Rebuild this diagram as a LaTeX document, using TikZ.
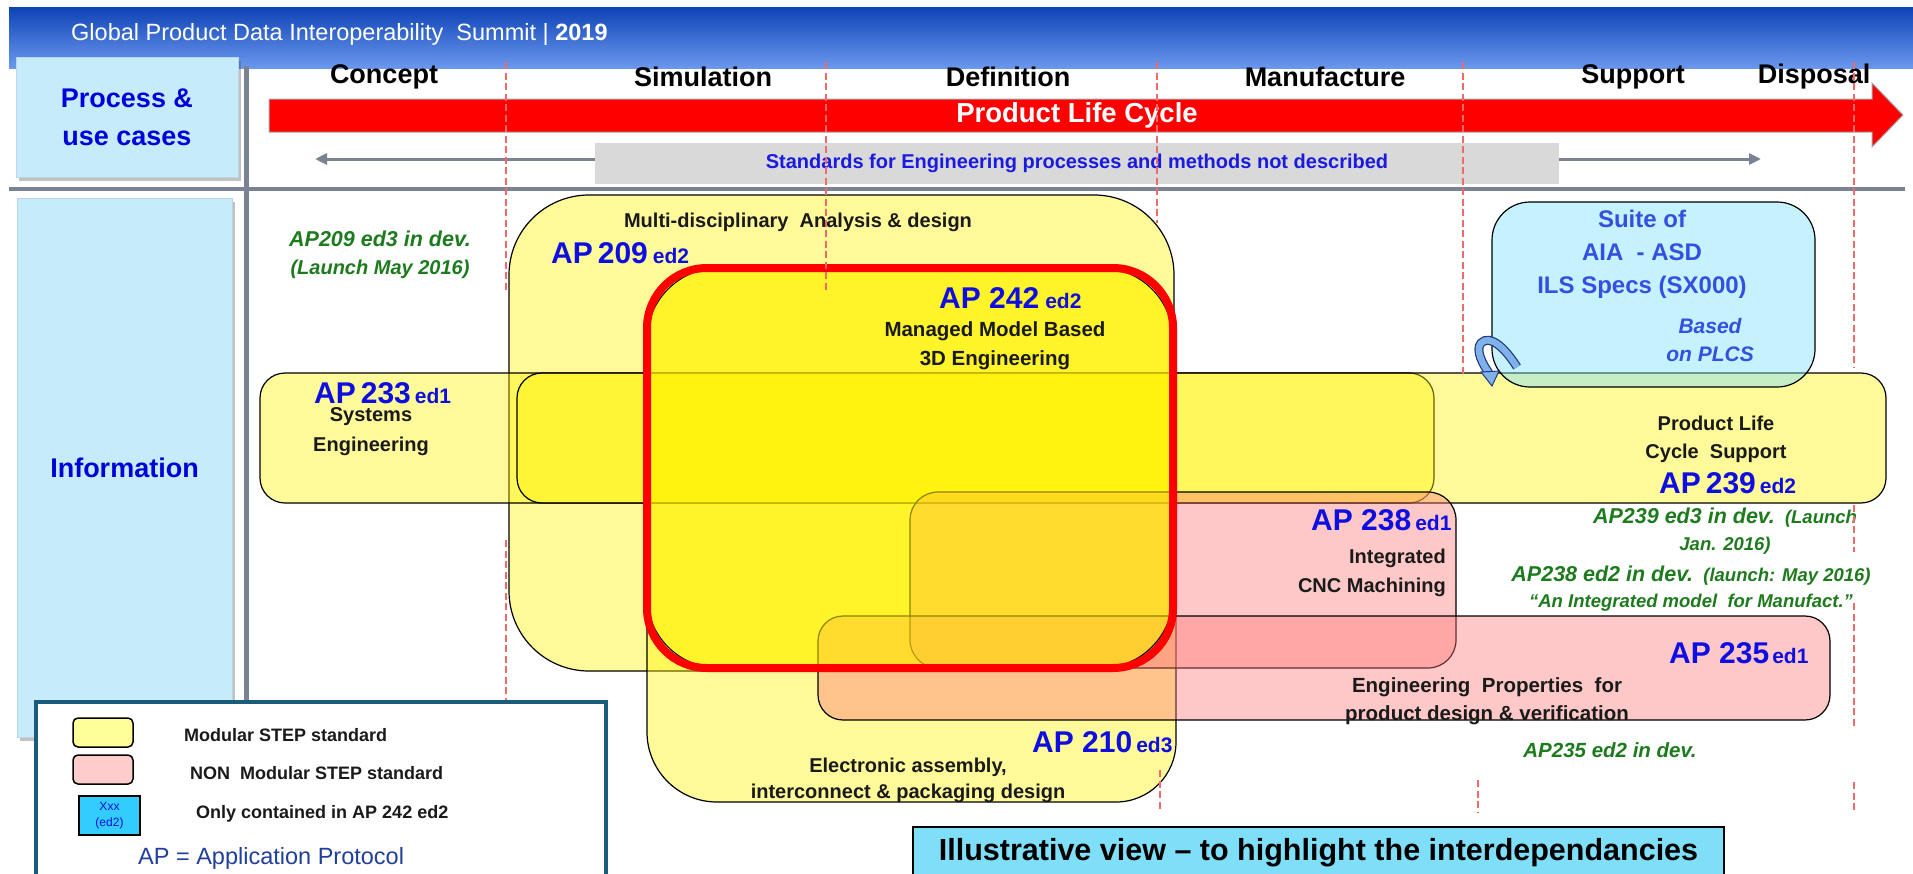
\documentclass[tikz,border=0pt]{standalone}
\usepackage{fontspec}
\setmainfont{Liberation Sans}
\usetikzlibrary{shadows,arrows.meta}

\definecolor{hdtop}{HTML}{0F43B5}
\definecolor{hdbot}{HTML}{6A98EE}
\definecolor{infofill}{HTML}{C6ECFC}
\definecolor{procblue}{HTML}{0000D8}
\definecolor{sepgray}{HTML}{7B8393}
\definecolor{stdgray}{HTML}{D9D9D9}
\definecolor{stdblue}{HTML}{1A1AE0}
\definecolor{dashred}{HTML}{F06A6A}
\definecolor{apblue}{HTML}{0E0EE0}
\definecolor{devgreen}{HTML}{1D7A1D}
\definecolor{aiablue}{HTML}{3350E0}
\definecolor{legframe}{HTML}{1A5C7C}
\definecolor{illfill}{HTML}{7FDFF8}
\definecolor{pinkbase}{HTML}{FF7575}
\definecolor{aiafill}{HTML}{80E0FF}
\definecolor{labblack}{HTML}{1A1A1A}
\definecolor{legyellow}{HTML}{FFFF99}
\definecolor{legpink}{HTML}{FFCCCC}
\definecolor{legcyan}{HTML}{33CCFF}
\definecolor{apdef}{HTML}{21409A}
\definecolor{arrdark}{HTML}{1F3B7A}
\definecolor{arrlight}{HTML}{7FB2EA}

\newcommand{\fsz}[2]{\fontsize{#1}{#2}\selectfont}

\begin{document}
\begin{tikzpicture}[x=1pt,y=-1pt,
  yel/.style={fill=yellow, fill opacity=0.4, draw=black, line width=1.2pt},
  pnk/.style={fill=pinkbase, fill opacity=0.4, draw=black, line width=1.2pt},
  infobox/.style={fill=infofill, draw=infofill!80!gray, line width=0.6pt,
    drop shadow={shadow xshift=3pt, shadow yshift=-4pt, opacity=0.35, fill=black!70},
    text=procblue, font=\fsz{27}{38}\bfseries, align=center, inner sep=0},
  phase/.style={font=\fsz{27}{30}\bfseries, inner sep=0},
  sep/.style={draw=sepgray, line width=4.5pt},
  dashline/.style={draw=dashred, line width=1.6pt, dash pattern=on 7pt off 3.5pt},
  aplab/.style={anchor=base west, text=apblue, font=\bfseries, inner sep=0},
  lab/.style={text=labblack, font=\bfseries, inner sep=0, align=center},
  dev/.style={text=devgreen, font=\bfseries\itshape, inner sep=0, align=center},
  legtext/.style={anchor=west, text=labblack, font=\fsz{18}{20}\bfseries, inner sep=0},
  swatch/.style={draw=black, line width=1.5pt, minimum width=60pt, minimum height=29pt, inner sep=0}
]
\useasboundingbox (0,0) rectangle (1913,873);

% header band
\shade[top color=hdtop, bottom color=hdbot] (9,7) rectangle (1913,68);
\node[anchor=west, text=white, font=\fsz{23.5}{28}, inner sep=0] (title) at (71,34)
  {Global Product Data Interoperability\ \ Summit | \textbf{2019}};

% separators between the two rows
\draw[sep] (9,189) -- (1905,189);
\draw[sep, line width=5pt] (246,66) -- (246,705);

% row headings
\node[infobox, minimum width=222pt, minimum height=120pt] (proc) at (127,117) {Process \&\\use cases};
\node[infobox, minimum width=215pt, minimum height=539pt] (info) at (124.5,467.5) {Information};

% life cycle phases
\node[phase] (concept) at (384,77) {Concept};
\node[phase] (simul) at (703,77) {Simulation};
\node[phase] (defin) at (1008,77) {Definition};
\node[phase] (manuf) at (1325,77) {Manufacture};
\node[phase] (supp) at (1633,77) {Support};
\node[phase] (disp) at (1814,77) {Disposal};

% product life cycle arrow
\draw[fill=red, draw=gray!70, line width=1pt]
  (269,99) -- (1872,99) -- (1872,83) -- (1903,115) -- (1872,147) -- (1872,132) -- (269,132) -- cycle;
\node[text=white, font=\fsz{27.5}{30}\bfseries, inner sep=0] (plc) at (1077,115) {Product Life Cycle};

% engineering standards span
\coordinate (stdL) at (315,159);
\coordinate (stdR) at (1761,159);
\draw[draw=sepgray, line width=3pt, {Triangle[length=12pt,width=11pt]}-{Triangle[length=12pt,width=11pt]}] (stdL) -- (stdR);
\node[fill=stdgray, minimum width=964pt, minimum height=41pt, inner sep=0,
  text=stdblue, font=\fsz{20}{22}\bfseries] (std) at (1077,163.5)
  {Standards for Engineering processes and methods not described};

% application protocol areas
\draw[yel, rounded corners=80pt] (509,195) rectangle (1174,671); % AP209
\draw[yel, rounded corners=25pt] (260,373) rectangle (1434,503); % AP233
\draw[yel, rounded corners=25pt] (517,373) rectangle (1886,503); % AP239
\draw[yel] (647,500) [rounded corners=60pt] -- (647,268) -- (1176,268) -- (1176,802)
  [rounded corners=70pt] -- (647,802) [rounded corners=85pt] -- cycle; % AP210
\draw[pnk, rounded corners=28pt] (910,492) rectangle (1456,668); % AP238
\draw[pnk, rounded corners=25pt] (818,616) rectangle (1830,720); % AP235
\draw[fill=yellow, fill opacity=0.55, draw=black, line width=1pt, rounded corners=72pt]
  (647,268) rectangle (1173,668); % AP242
\draw[fill=aiafill, fill opacity=0.45, draw=black, line width=1.2pt, rounded corners=38pt]
  (1492,202) rectangle (1815,387); % AIA-ASD suite
\draw[draw=red, line width=8pt, rounded corners=60pt] (647,268) rectangle (1173,668);

% curved arrow from the AIA-ASD suite to PLCS
\draw[draw=arrdark, line width=9pt] (1517,367) .. controls (1505,348) and (1490,334) .. (1481,343)
  .. controls (1475,350) and (1483,365) .. (1489,373);
\draw[draw=arrlight, line width=6.5pt] (1517,367) .. controls (1505,348) and (1490,334) .. (1481,343)
  .. controls (1475,350) and (1483,365) .. (1489,373);
\fill[arrlight, draw=arrdark, line width=1pt] (1481,372) -- (1499,371) -- (1492,386) -- cycle;

% labels of the areas
\node[aplab] (ap209) at (551,263) {{\fsz{30}{30}AP\,209}\hspace{5pt}{\fsz{21}{21}ed2}};
\node[lab, font=\fsz{20}{24}\bfseries] (t209) at (798,222) {Multi-disciplinary\ \ Analysis \& design};
\node[aplab] (ap242) at (939,308) {{\fsz{30}{30}AP 242}\hspace{6pt}{\fsz{21}{21}ed2}};
\node[lab, font=\fsz{20.5}{29}\bfseries] (t242) at (995,346) {Managed Model Based\\3D Engineering};
\node[aplab] (ap233) at (314,403) {{\fsz{30}{30}AP\,233}\hspace{4pt}{\fsz{21}{21}ed1}};
\node[lab, font=\fsz{20}{30}\bfseries] (t233) at (371,432) {Systems\\Engineering};
\node[lab, font=\fsz{20}{28}\bfseries] (t239) at (1716,439) {Product Life\\Cycle\ \ Support};
\node[aplab] (ap239) at (1659,493) {{\fsz{30}{30}AP\,239}\hspace{4pt}{\fsz{21}{21}ed2}};
\node[aplab] (ap238) at (1311,530) {{\fsz{30}{30}AP 238}\hspace{4pt}{\fsz{21}{21}ed1}};
\node[lab, font=\fsz{20}{29}\bfseries, align=right, anchor=east] (t238) at (1446,573) {Integrated\\CNC Machining};
\node[aplab] (ap235) at (1669,663) {{\fsz{30}{30}AP 235}\hspace{3pt}{\fsz{21}{21}ed1}};
\node[lab, font=\fsz{20.5}{28}\bfseries] (t235) at (1487,701) {Engineering\ \ Properties\ \ for\\product design \& verification};
\node[aplab] (ap210) at (1032,752) {{\fsz{30}{30}AP 210}\hspace{4pt}{\fsz{21}{21}ed3}};
\node[lab, font=\fsz{20}{26}\bfseries] (t210) at (908,780) {Electronic assembly,\\interconnect \& packaging design};
\node[lab, text=aiablue, font=\fsz{24}{33}\bfseries] (aia) at (1642,254) {Suite of\\AIA\ \ - ASD\\ILS Specs (SX000)};
\node[lab, text=aiablue, font=\fsz{21}{28}\bfseries\itshape] (plcs) at (1710,340) {Based\\on PLCS};

% editions in development
\node[dev, font=\fsz{20}{28}\bfseries\itshape] (dev209) at (380,255)
  {{\fsz{21.5}{28}AP209 ed3 in dev.}\\(Launch May 2016)};
\node[dev, font=\fsz{18.5}{27}\bfseries\itshape] (dev239) at (1725,531)
  {{\fsz{21.5}{27}AP239 ed3 in dev.}\ \ (Launch\\Jan. 2016)};
\node[dev, font=\fsz{18.5}{26}\bfseries\itshape] (dev238) at (1691,589)
  {{\fsz{21.5}{26}AP238 ed2 in dev.}\ \ (launch: May 2016)\\“An Integrated model\ \ for Manufact.”};
\node[dev, font=\fsz{20.5}{24}\bfseries\itshape] (dev235) at (1610,750) {AP235 ed2 in dev.};

% phase boundaries
\draw[dashline] (506,62) -- (506,290);
\draw[dashline] (506,540) -- (506,700);
\draw[dashline] (826,62) -- (826,293);
\draw[dashline] (1157,62) -- (1157,223);
\draw[dashline] (1160,770) -- (1160,812);
\draw[dashline] (1463,62) -- (1463,375);
\draw[dashline] (1478,780) -- (1478,812);
\draw[dashline] (1854,62) -- (1854,368);
\draw[dashline] (1854,505) -- (1854,552);
\draw[dashline] (1854,603) -- (1854,727);
\draw[dashline] (1854,782) -- (1854,813);

% legend
\draw[draw=legframe, fill=white, line width=3.5pt] (36,702) rectangle (606,890);
\node[swatch, fill=legyellow, rounded corners=5pt] (swY) at (103,732.5) {};
\node[swatch, fill=legpink, rounded corners=5pt] (swP) at (103,769.5) {};
\node[swatch, fill=legcyan, minimum width=61pt, minimum height=39pt, align=center,
  text=apblue, font=\fsz{12}{16}] (swB) at (109.5,815.5) {Xxx\\(ed2)};
\node[legtext] (lgY) at (184,735) {Modular STEP standard};
\node[legtext] (lgP) at (190,773) {NON\ \ Modular STEP standard};
\node[legtext] (lgB) at (196,814) {Only contained in AP 242 ed2};
\node[anchor=west, text=apdef, font=\fsz{23.5}{26}, inner sep=0] (lgAP) at (138,858) {AP = Application Protocol};

% note at the bottom
\node[draw=black, line width=1.5pt, fill=illfill, minimum width=811pt, minimum height=52pt,
  inner sep=0, font=\fsz{30.5}{32}\bfseries] (illus) at (1318.5,853)
  {Illustrative view – to highlight the interdependancies};
\end{tikzpicture}
\end{document}
